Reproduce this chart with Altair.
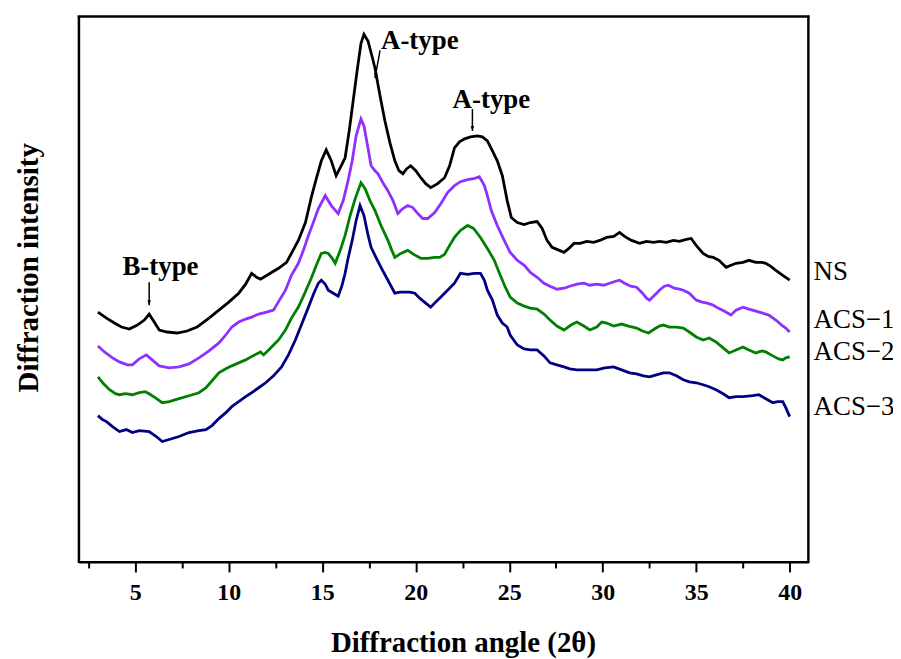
import altair as alt
import pandas as pd

# ---------------- data (2θ in degrees, intensity in a.u.) ----------------
series_names = ["NS", "ACS−1", "ACS−2", "ACS−3"]
series_colors = ["#000000", "#9030ff", "#008000", "#000080"]

ns_x = [3.0, 3.46, 3.88, 4.26, 4.68, 5.11, 5.48, 5.74, 6.01, 6.28,
        6.70, 7.23, 7.77, 8.30, 8.94, 9.47, 10.0, 10.53, 10.90, 11.22,
        11.49, 11.70, 12.13, 12.66, 13.09, 13.35, 13.72, 14.10, 14.41, 14.68,
        14.95, 15.21, 15.48, 15.74, 16.01, 16.22, 16.44, 16.65, 16.86, 17.07,
        17.23, 17.45, 17.66, 17.82, 18.09, 18.35, 18.62, 18.88, 19.10, 19.31,
        19.52, 19.73, 20.0, 20.27, 20.53, 20.80, 21.17, 21.54, 21.81, 22.07,
        22.34, 22.61, 22.93, 23.30, 23.56, 23.83, 24.10, 24.36, 24.63, 24.89,
        25.11, 25.43, 25.80, 26.12, 26.49, 26.76, 27.02, 27.29, 27.55, 27.93,
        28.19, 28.46, 28.78, 29.15, 29.52, 29.84, 30.21, 30.59, 30.90, 31.17,
        31.54, 31.97, 32.34, 32.71, 33.03, 33.40, 33.78, 34.10, 34.47, 34.73,
        35.0, 35.37, 35.64, 35.90, 36.22, 36.60, 36.86, 37.13, 37.50, 37.82,
        38.19, 38.51, 38.72, 38.99, 39.26, 39.63, 40.0]
ns_y = [251, 245, 240, 236, 234, 238, 243, 249, 241, 233,
        231, 230, 232, 236, 245, 253, 261, 270, 279, 290,
        286, 284, 289, 295, 301, 310, 323, 341, 366, 385,
        403, 414, 403, 388, 398, 406, 433, 463, 493, 521,
        530, 523, 508, 496, 468, 443, 421, 403, 393, 390,
        395, 398, 393, 386, 380, 376, 380, 386, 398, 416,
        422, 425, 427, 428, 427, 423, 413, 403, 388, 363,
        346, 341, 339, 341, 342, 335, 323, 316, 314, 311,
        315, 320, 320, 322, 321, 323, 326, 327, 331, 327,
        323, 320, 322, 321, 322, 321, 323, 322, 324, 325,
        318, 310, 307, 306, 303, 296, 298, 300, 301, 303,
        301, 301, 300, 297, 293, 288, 283]

acs1_x = [3.0, 3.35, 3.78, 4.15, 4.57, 4.84, 5.21, 5.59, 5.90, 6.28,
          6.81, 7.34, 7.87, 8.40, 8.94, 9.47, 9.84, 10.16, 10.53, 10.90,
          11.22, 11.60, 12.02, 12.39, 12.71, 13.03, 13.35, 13.72, 13.99, 14.26,
          14.52, 14.79, 15.16, 15.48, 15.85, 16.12, 16.38, 16.60, 16.81, 17.07,
          17.23, 17.45, 17.61, 17.82, 17.98, 18.24, 18.51, 18.78, 19.04, 19.31,
          19.57, 19.84, 20.11, 20.37, 20.64, 21.01, 21.38, 21.70, 22.07, 22.39,
          22.77, 23.09, 23.40, 23.67, 23.83, 24.04, 24.36, 24.73, 25.05, 25.43,
          25.80, 26.12, 26.49, 26.86, 27.18, 27.55, 27.93, 28.24, 28.62, 28.99,
          29.31, 29.68, 30.05, 30.37, 30.69, 30.90, 31.17, 31.49, 31.81, 32.13,
          32.34, 32.50, 32.77, 33.09, 33.30, 33.51, 33.83, 34.10, 34.31, 34.63,
          35.0, 35.32, 35.59, 35.90, 36.17, 36.49, 36.86, 37.13, 37.50, 37.82,
          38.19, 38.56, 38.88, 39.26, 39.57, 39.79, 40.0]
acs1_y = [217, 211, 205, 201, 198, 198, 204, 208, 203, 197,
          195, 196, 199, 205, 212, 220, 228, 236, 241, 244,
          246, 249, 251, 253, 263, 273, 288, 300, 313, 328,
          341, 355, 368, 358, 350, 363, 383, 403, 428, 445,
          438, 415, 398, 393, 390, 381, 373, 363, 350, 355,
          358, 356, 350, 345, 345, 351, 361, 371, 378, 382,
          384, 385, 387, 378, 368, 353, 338, 323, 311, 303,
          298, 291, 286, 280, 277, 274, 275, 277, 279, 280,
          278, 279, 278, 280, 282, 283, 280, 277, 276, 270,
          265, 263, 268, 274, 277, 278, 275, 274, 273, 270,
          263, 261, 260, 258, 255, 252, 248, 253, 256, 254,
          252, 250, 248, 243, 238, 235, 231]

acs2_x = [3.0, 3.30, 3.62, 3.94, 4.15, 4.47, 4.84, 5.21, 5.53, 5.74,
          6.06, 6.44, 6.81, 7.34, 7.87, 8.40, 8.78, 9.15, 9.47, 9.84,
          10.16, 10.53, 10.90, 11.28, 11.70, 11.86, 12.13, 12.39, 12.66, 13.03,
          13.35, 13.72, 14.04, 14.41, 14.68, 14.95, 15.16, 15.32, 15.53, 15.69,
          15.96, 16.22, 16.49, 16.76, 17.07, 17.29, 17.55, 17.82, 18.14, 18.51,
          18.72, 18.88, 19.20, 19.57, 19.89, 20.27, 20.64, 21.01, 21.28, 21.54,
          21.81, 22.07, 22.39, 22.77, 23.09, 23.46, 23.83, 24.20, 24.52, 24.79,
          25.05, 25.43, 25.80, 26.12, 26.49, 26.86, 27.18, 27.55, 27.93, 28.30,
          28.62, 28.99, 29.31, 29.68, 29.95, 30.21, 30.59, 31.01, 31.38, 31.81,
          32.13, 32.45, 32.77, 33.03, 33.24, 33.56, 33.94, 34.31, 34.63, 35.0,
          35.37, 35.69, 36.06, 36.44, 36.76, 37.13, 37.50, 37.82, 38.19, 38.51,
          38.72, 39.10, 39.41, 39.63, 39.79, 40.0]
acs2_y = [186, 179, 173, 169, 168, 169, 168, 170, 171, 169,
          165, 160, 161, 164, 167, 170, 175, 183, 190, 194,
          197, 200, 203, 207, 211, 208, 213, 218, 223, 233,
          245, 256, 269, 285, 298, 310, 311, 310, 305, 300,
          313, 328, 348, 365, 381, 375, 363, 353, 338, 323,
          313, 306, 310, 313, 309, 305, 305, 306, 306, 309,
          318, 326, 333, 338, 335, 326, 315, 303, 288, 276,
          266, 260, 257, 255, 254, 249, 243, 237, 233, 238,
          241, 237, 233, 236, 241, 240, 237, 239, 237, 235,
          232, 230, 234, 237, 238, 236, 236, 235, 231, 226,
          223, 225, 221, 215, 210, 213, 216, 213, 210, 212,
          211, 207, 204, 203, 205, 206]

acs3_x = [3.0, 3.24, 3.46, 3.78, 4.15, 4.52, 4.84, 5.21, 5.74, 6.12,
          6.44, 6.81, 7.34, 7.87, 8.40, 8.78, 9.10, 9.47, 9.84, 10.16,
          10.53, 10.90, 11.22, 11.60, 11.97, 12.39, 12.82, 13.19, 13.56, 13.88,
          14.26, 14.57, 14.79, 14.95, 15.16, 15.32, 15.59, 15.85, 16.06, 16.22,
          16.38, 16.60, 16.81, 17.02, 17.23, 17.45, 17.61, 17.87, 18.14, 18.51,
          18.88, 19.15, 19.41, 19.68, 19.95, 20.21, 20.53, 20.80, 21.06, 21.33,
          21.70, 22.07, 22.39, 22.77, 23.14, 23.46, 23.67, 23.83, 24.10, 24.36,
          24.63, 24.89, 25.05, 25.43, 25.80, 26.12, 26.49, 26.86, 27.18, 27.55,
          27.93, 28.24, 28.62, 29.15, 29.68, 30.11, 30.59, 31.01, 31.44, 31.81,
          32.18, 32.50, 32.87, 33.24, 33.56, 33.94, 34.31, 34.63, 35.0, 35.37,
          35.69, 36.06, 36.44, 36.76, 37.13, 37.50, 38.03, 38.35, 38.72, 39.10,
          39.36, 39.63, 39.79, 40.0]
acs3_y = [147, 143, 141, 136, 131, 133, 130, 132, 131, 126,
          121, 123, 126, 130, 132, 133, 137, 144, 150, 156,
          161, 166, 170, 175, 180, 187, 196, 208, 223, 238,
          256, 271, 280, 283, 279, 273, 270, 267, 278, 290,
          305, 323, 343, 358, 348, 328, 316, 306, 296, 283,
          270, 271, 271, 271, 270, 265, 260, 256, 261, 266,
          273, 280, 290, 289, 290, 290, 283, 273, 263, 248,
          240, 236, 228, 218, 214, 213, 213, 207, 200, 198,
          196, 194, 193, 193, 193, 195, 196, 193, 190, 189,
          187, 186, 188, 190, 190, 187, 183, 181, 180, 178,
          176, 173, 169, 165, 166, 166, 167, 168, 164, 160,
          161, 161, 155, 146]

# peak annotations
type_labels = ["B-type", "A-type", "A-type"]
type_label_x = [4.31, 18.14, 21.97]
type_label_y = [288, 515, 456]
arrow_x_start = [5.74, 18.09, 23.03]
arrow_y_start = [281, 514, 455]
arrow_x_end = [5.74, 17.82, 23.03]
arrow_y_end = [258, 486, 433]
arrow_rotation = [0, 9.5, 0]

# sample labels to the right of the curves
sample_label_x = [41.28, 41.28, 41.28, 41.28]
sample_label_y = [283, 235, 203, 148]

# axis ranges (the frame is drawn along their far edges)
x_range = [1.97, 41.0]
y_range = [0, 548]

# ---------------- build tables ----------------
frames = []
for name, xs, ys in zip(series_names,
                        [ns_x, acs1_x, acs2_x, acs3_x],
                        [ns_y, acs1_y, acs2_y, acs3_y]):
    frames.append(pd.DataFrame({"angle": xs, "intensity": ys, "sample": name}))
df = pd.concat(frames, ignore_index=True)

df_types = pd.DataFrame({"angle": type_label_x, "intensity": type_label_y, "text": type_labels})
df_arrows = pd.DataFrame({"angle": arrow_x_start, "intensity": arrow_y_start,
                          "angle2": arrow_x_end, "intensity2": arrow_y_end,
                          "rot": arrow_rotation})
df_samples = pd.DataFrame({"angle": sample_label_x, "intensity": sample_label_y,
                           "text": series_names})
# top edge and right edge of the frame
df_frame = pd.DataFrame({
    "angle": [x_range[0], x_range[1]],
    "angle2": [x_range[1], x_range[1]],
    "intensity": [y_range[1], y_range[0]],
    "intensity2": [y_range[1], y_range[1]],
})

FONT = "Liberation Serif"
x_scale = alt.Scale(domain=x_range, nice=False, zero=False)
y_scale = alt.Scale(domain=y_range, nice=False, zero=False)

tick_values = [2.5 * i for i in range(1, 17)]

x_axis = alt.Axis(
    values=tick_values,
    labelExpr="datum.value % 5 === 0 ? datum.label : ''",
    tickSize={"condition": {"test": "datum.value % 5 === 0", "value": 10}, "value": 6},
    tickWidth=2, tickColor="black",
    domainColor="black", domainWidth=2,
    labelFont=FONT, labelFontWeight="bold", labelFontSize=24, labelColor="black",
    labelPadding=9, labelOverlap=False, labelFlush=False,
    grid=False,
    title="Diffraction angle (2θ)",
    titleFont=FONT, titleFontWeight="bold", titleFontSize=29, titleColor="black",
    titleX=386, titleY=90, titleBaseline="alphabetic", titleAlign="center",
)
y_axis = alt.Axis(
    ticks=False, labels=False, grid=False,
    domainColor="black", domainWidth=2,
    title="Diffraction intensity",
    titleFont=FONT, titleFontWeight="bold", titleFontSize=29, titleColor="black",
    titleAngle=270, titleX=-41, titleY=252, titleBaseline="alphabetic", titleAlign="center",
)

lines = alt.Chart(df).mark_line(strokeWidth=2.8, clip=True).encode(
    x=alt.X("angle:Q", scale=x_scale, axis=x_axis),
    y=alt.Y("intensity:Q", scale=y_scale, axis=y_axis),
    color=alt.Color("sample:N", scale=alt.Scale(domain=series_names, range=series_colors),
                    legend=None),
    order=alt.Order("angle:Q"),
)

frame = alt.Chart(df_frame).mark_rule(strokeWidth=2, color="black", strokeCap="square").encode(
    x=alt.X("angle:Q", scale=x_scale), y=alt.Y("intensity:Q", scale=y_scale),
    x2="angle2:Q", y2="intensity2:Q",
)

type_text = alt.Chart(df_types).mark_text(
    align="left", baseline="alphabetic", font=FONT, fontWeight="bold", fontSize=27, color="black"
).encode(x=alt.X("angle:Q", scale=x_scale), y=alt.Y("intensity:Q", scale=y_scale), text="text:N")

arrow_lines = alt.Chart(df_arrows).mark_rule(strokeWidth=1.5, color="black").encode(
    x=alt.X("angle:Q", scale=x_scale), y=alt.Y("intensity:Q", scale=y_scale),
    x2="angle2:Q", y2="intensity2:Q",
)

arrow_heads = alt.Chart(df_arrows).mark_point(
    shape="M -0.35 -1 L 0.35 -1 L 0 0 Z", filled=True, size=100, color="black", opacity=1
).encode(
    x=alt.X("angle2:Q", scale=x_scale), y=alt.Y("intensity2:Q", scale=y_scale),
    angle=alt.Angle("rot:Q", scale=None),
)

sample_text = alt.Chart(df_samples).mark_text(
    align="left", baseline="alphabetic", font=FONT, fontSize=27, color="black"
).encode(x=alt.X("angle:Q", scale=x_scale), y=alt.Y("intensity:Q", scale=y_scale), text="text:N")

chart = alt.layer(lines, frame, arrow_lines, arrow_heads, type_text, sample_text).properties(
    width=733, height=548,
    autosize=alt.AutoSizeParams(type="none"),
    padding={"left": 71, "top": 7, "right": 85, "bottom": 95},
    background="white",
).configure_view(stroke="black", strokeWidth=2)

chart.save("out.html", embed_options={"renderer": "svg", "actions": False})
